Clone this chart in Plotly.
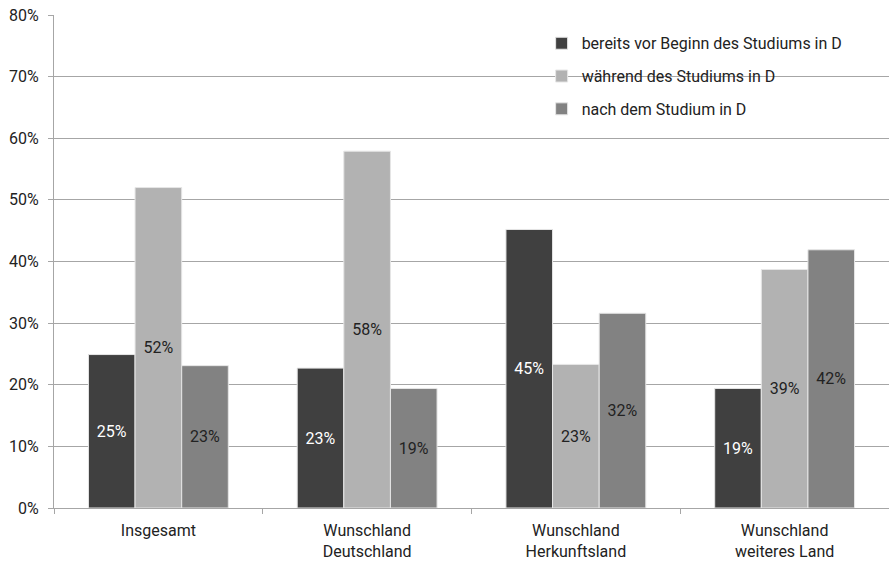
import plotly.graph_objects as go

categories = ["Insgesamt", "Wunschland<br>Deutschland", "Wunschland<br>Herkunftsland", "Wunschland<br>weiteres Land"]
series_names = ["bereits vor Beginn des Studiums in D", "während des Studiums in D", "nach dem Studium in D"]
vor_beginn = [24.9, 22.7, 45.2, 19.4]
waehrend = [52.0, 57.9, 23.3, 38.7]
nach = [23.1, 19.4, 31.6, 41.9]

colors = ["#404040", "#b2b2b2", "#828282"]
text_colors = ["white", "#222222", "#222222"]

FONT = "Roboto, Liberation Sans, sans-serif"

fig = go.Figure()
for i, (name, vals) in enumerate(zip(series_names, [vor_beginn, waehrend, nach])):
    fig.add_trace(go.Bar(
        x=categories, y=vals, name=name,
        marker=dict(color=colors[i], line=dict(color="#e6e6e6", width=1)),
        texttemplate="%{y:.0f}%", textposition="inside", insidetextanchor="middle",
        textangle=0,
        textfont=dict(color=text_colors[i], size=16, family=FONT),
        legendgroup=f"g{i}",
    ))

# white panel behind the legend (covers gridlines, like the original)
fig.add_shape(type="rect", xref="paper", yref="paper",
              x0=0.5605, x1=1.0, y0=0.771, y1=0.99,
              fillcolor="white", line=dict(width=0), layer="between")

fig.update_layout(
    width=889, height=565,
    margin=dict(l=54, r=0, t=15, b=57),
    paper_bgcolor="white", plot_bgcolor="white",
    barmode="group", bargap=0.33, bargroupgap=0,
    font=dict(family=FONT, size=16, color="#222222"),
    showlegend=True,
    legend=dict(x=0.584, y=0.977, xanchor="left", yanchor="top",
                bgcolor="rgba(0,0,0,0)", borderwidth=0,
                traceorder="grouped", tracegroupgap=9,
                font=dict(size=16, family=FONT, color="#222222")),
    uniformtext=dict(mode=False),
)
fig.update_yaxes(range=[0, 80], dtick=10, ticksuffix="%",
                 showgrid=True, gridcolor="#a6a6a6", gridwidth=1,
                 showline=True, linecolor="#a6a6a6", linewidth=1,
                 ticks="outside", ticklen=5, tickcolor="#a6a6a6",
                 ticklabelstandoff=6,
                 zeroline=False, tickfont=dict(size=16, color="#222222"))
fig.update_xaxes(showline=True, linecolor="#a6a6a6", linewidth=1,
                 ticks="outside", ticklen=5, tickcolor="#a6a6a6",
                 tickson="boundaries", ticklabelstandoff=8,
                 tickfont=dict(size=16, color="#222222"))

fig.write_html("out.html")
